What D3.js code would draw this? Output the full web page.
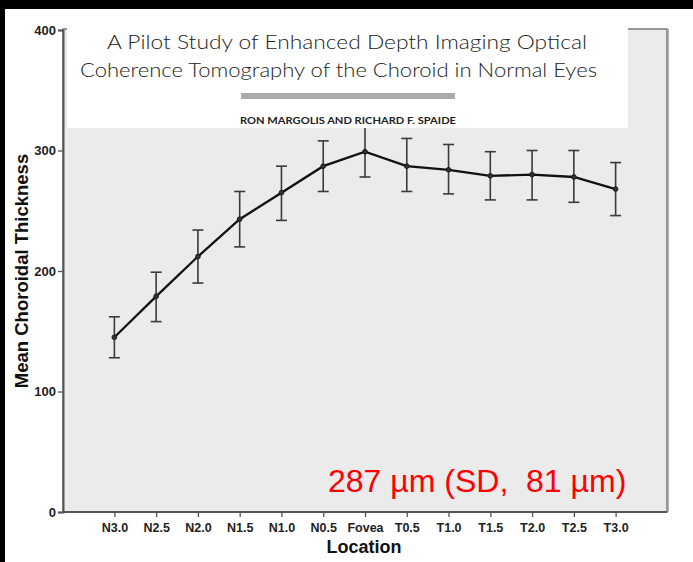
<!DOCTYPE html>
<html>
<head>
<meta charset="utf-8">
<script src="https://cdn.jsdelivr.net/npm/d3@7"></script>
<style>
  html, body { margin: 0; padding: 0; background: #fff; }
  svg { display: block; }
</style>
</head>
<body>
<div id="chart"></div>
<script>
// Mean choroidal thickness by location, with error bars
const locations = ['N3.0', 'N2.5', 'N2.0', 'N1.5', 'N1.0', 'N0.5', 'Fovea', 'T0.5', 'T1.0', 'T1.5', 'T2.0', 'T2.5', 'T3.0'];
const means = [145, 179, 212, 243, 265, 287, 299, 287, 284, 279, 280, 278, 268];
const lower = [128, 158, 190, 220, 242, 266, 278, 266, 264, 259, 259, 257, 246];
const upper = [162, 199, 234, 266, 287, 308, 320, 310, 305, 299, 300, 300, 290];
const yTicks = [0, 100, 200, 300, 400];

const titleLines = [
  'A Pilot Study of Enhanced Depth Imaging Optical',
  'Coherence Tomography of the Choroid in Normal Eyes'
];
const authors = 'RON MARGOLIS AND RICHARD F. SPAIDE';
const note = '287 µm (SD,  81 µm)';

(function () {
  const width = 693;
  const height = 562;
  const plot = { left: 63, right: 667, top: 29, bottom: 512 };

  const rows = locations.map((loc, i) => ({ loc, mean: means[i], lo: lower[i], hi: upper[i] }));

  const svg = d3.select('#chart')
    .append('svg')
    .attr('width', width)
    .attr('height', height)
    .attr('viewBox', `0 0 ${width} ${height}`);

  svg.append('rect').attr('width', width).attr('height', height).attr('fill', '#fff');

  // black frame of the slide
  svg.append('rect').attr('x', 0).attr('y', 0).attr('width', width).attr('height', 9).attr('fill', '#000');
  svg.append('rect').attr('x', 0).attr('y', 0).attr('width', 5).attr('height', height).attr('fill', '#000');

  const x = d3.scalePoint()
    .domain(locations)
    .range([plot.left, plot.right])
    .padding(1.23);

  const y = d3.scaleLinear()
    .domain([0, 400])
    .range([plot.bottom, 30]);

  // plot area
  svg.append('rect')
    .attr('x', plot.left)
    .attr('y', plot.top)
    .attr('width', plot.right - plot.left)
    .attr('height', plot.bottom - plot.top)
    .attr('fill', '#ebebeb')
    .attr('stroke', '#7a7a7a')
    .attr('stroke-width', 1.5);

  svg.append('line')
    .attr('x1', plot.right + 1.5).attr('x2', plot.right + 1.5)
    .attr('y1', plot.top).attr('y2', plot.bottom)
    .attr('stroke', '#b5b5b5').attr('stroke-width', 1);

  // error bars
  const bars = svg.append('g')
    .attr('stroke', '#3a3a3a')
    .attr('stroke-width', 1.6)
    .selectAll('g')
    .data(rows)
    .join('g');

  bars.append('line')
    .attr('x1', (d) => x(d.loc)).attr('x2', (d) => x(d.loc))
    .attr('y1', (d) => y(d.lo)).attr('y2', (d) => y(d.hi));
  bars.append('line')
    .attr('x1', (d) => x(d.loc) - 5.5).attr('x2', (d) => x(d.loc) + 5.5)
    .attr('y1', (d) => y(d.hi)).attr('y2', (d) => y(d.hi));
  bars.append('line')
    .attr('x1', (d) => x(d.loc) - 5.5).attr('x2', (d) => x(d.loc) + 5.5)
    .attr('y1', (d) => y(d.lo)).attr('y2', (d) => y(d.lo));

  svg.append('path')
    .datum(rows)
    .attr('fill', 'none')
    .attr('stroke', '#111')
    .attr('stroke-width', 2.3)
    .attr('d', d3.line().x((d) => x(d.loc)).y((d) => y(d.mean)));

  svg.append('g')
    .selectAll('circle')
    .data(rows)
    .join('circle')
    .attr('cx', (d) => x(d.loc))
    .attr('cy', (d) => y(d.mean))
    .attr('r', 2.4)
    .attr('fill', '#333')
    .attr('stroke', '#111')
    .attr('stroke-width', 0.8);

  // axes
  const yAxis = d3.axisLeft(y).tickValues(yTicks).tickSize(5).tickPadding(2);
  svg.append('g')
    .attr('transform', `translate(${plot.left},0)`)
    .call(yAxis)
    .call((g) => g.select('.domain').attr('stroke', '#555').attr('stroke-width', 2))
    .call((g) => g.selectAll('.tick line').attr('stroke', '#555').attr('stroke-width', 1.3))
    .call((g) => g.selectAll('.tick text')
      .attr('font-family', 'Liberation Sans, Arial, sans-serif')
      .attr('font-weight', 'bold')
      .attr('font-size', 13)
      .attr('fill', '#222'));

  const xAxis = d3.axisBottom(x).tickSize(5).tickPadding(6);
  svg.append('g')
    .attr('transform', `translate(0,${plot.bottom})`)
    .call(xAxis)
    .call((g) => g.select('.domain').attr('d', `M${plot.left},0H${plot.right}`).attr('stroke', '#555').attr('stroke-width', 2))
    .call((g) => g.selectAll('.tick line').attr('stroke', '#555').attr('stroke-width', 1.3))
    .call((g) => g.selectAll('.tick text')
      .attr('font-family', 'Liberation Sans, Arial, sans-serif')
      .attr('font-weight', 'bold')
      .attr('font-size', 12.5)
      .attr('fill', '#222'));

  svg.append('text')
    .attr('x', 364)
    .attr('y', 553)
    .attr('text-anchor', 'middle')
    .attr('font-family', 'Liberation Sans, Arial, sans-serif')
    .attr('font-weight', 'bold')
    .attr('font-size', 18)
    .attr('fill', '#111')
    .text('Location');

  svg.append('text')
    .attr('transform', 'translate(28,271) rotate(-90)')
    .attr('text-anchor', 'middle')
    .attr('font-family', 'Liberation Sans, Arial, sans-serif')
    .attr('font-weight', 'bold')
    .attr('font-size', 18.5)
    .attr('fill', '#111')
    .text('Mean Choroidal Thickness');

  // pasted paper header
  svg.append('rect')
    .attr('x', 67).attr('y', 9)
    .attr('width', 628 - 67).attr('height', 128 - 9)
    .attr('fill', '#fff');

  const titleX = [107, 80];
  const titleW = [480, 517];
  const titleY = [49, 77];
  titleLines.forEach((line, i) => {
    svg.append('text')
      .attr('x', titleX[i])
      .attr('y', titleY[i])
      .attr('textLength', titleW[i])
      .attr('lengthAdjust', 'spacingAndGlyphs')
      .attr('font-family', 'Lato, Open Sans, sans-serif')
      .attr('font-weight', 300)
      .attr('font-size', 20.5)
      .attr('fill', '#222')
      .text(line);
  });

  svg.append('rect')
    .attr('x', 241).attr('y', 93)
    .attr('width', 214).attr('height', 6)
    .attr('fill', '#a9abad');

  svg.append('text')
    .attr('x', 240)
    .attr('y', 124)
    .attr('textLength', 216)
    .attr('lengthAdjust', 'spacingAndGlyphs')
    .attr('font-family', 'Lato, Open Sans, sans-serif')
    .attr('font-weight', 'bold')
    .attr('font-size', 9.5)
    .attr('fill', '#222')
    .text(authors);

  svg.append('text')
    .attr('x', 328)
    .attr('y', 492)
    .attr('font-family', 'Liberation Sans, Arial, sans-serif')
    .attr('font-size', 32)
    .attr('fill', '#ff0000')
    .style('white-space', 'pre')
    .text(note);
})();
</script>
</body>
</html>
